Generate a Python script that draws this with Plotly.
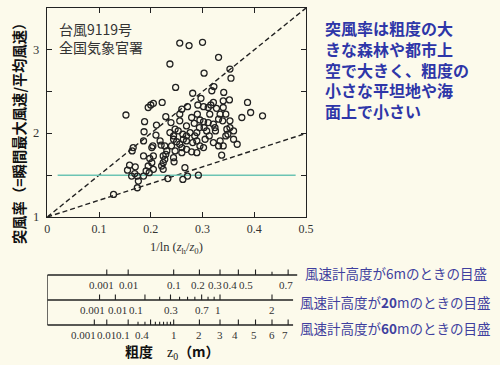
import numpy as np
import plotly.graph_objects as go

# ---------------- data ----------------
# scatter: 1/ln(zh/z0) vs gust factor (Typhoon 9119, JMA stations)
inv_ln = [0.256, 0.274, 0.300, 0.331, 0.237, 0.303, 0.353, 0.355, 0.248, 0.322,
          0.318, 0.281, 0.341, 0.297, 0.195, 0.200, 0.205, 0.222, 0.152, 0.229,
          0.260, 0.256, 0.271, 0.302, 0.311, 0.316, 0.321, 0.327, 0.340, 0.352,
          0.340, 0.345, 0.387, 0.393, 0.416, 0.376, 0.279, 0.291, 0.188, 0.211,
          0.239, 0.256, 0.269, 0.284, 0.295, 0.302, 0.311, 0.321, 0.331, 0.339,
          0.353, 0.347, 0.353, 0.325, 0.303, 0.308, 0.294, 0.289, 0.187, 0.210,
          0.237, 0.244, 0.253, 0.262, 0.269, 0.276, 0.324, 0.166, 0.164, 0.186,
          0.202, 0.204, 0.218, 0.220, 0.227, 0.231, 0.244, 0.250, 0.256, 0.260,
          0.269, 0.281, 0.289, 0.305, 0.321, 0.331, 0.334, 0.340, 0.345, 0.349,
          0.367, 0.295, 0.302, 0.269, 0.279, 0.289, 0.260, 0.224, 0.229, 0.186,
          0.205, 0.337, 0.244, 0.159, 0.155, 0.170, 0.169, 0.163, 0.174, 0.176,
          0.174, 0.128, 0.198, 0.202, 0.195, 0.191, 0.197, 0.205, 0.221, 0.224,
          0.227, 0.245, 0.266, 0.233, 0.262, 0.271, 0.292, 0.224, 0.186, 0.240,
          0.247, 0.263, 0.285, 0.313, 0.360, 0.360, 0.314, 0.334, 0.290, 0.247]
gust = [3.08, 3.05, 3.09, 2.91, 2.83, 2.72, 2.77, 2.66, 2.55, 2.56,
        2.51, 2.48, 2.49, 2.42, 2.31, 2.34, 2.36, 2.37, 2.22, 2.20,
        2.29, 2.23, 2.32, 2.32, 2.31, 2.34, 2.37, 2.30, 2.39, 2.40,
        2.31, 2.23, 2.37, 2.25, 2.21, 2.19, 2.19, 2.34, 2.14, 2.10,
        2.13, 2.15, 2.09, 2.12, 2.16, 2.14, 2.13, 2.11, 2.17, 2.15,
        2.15, 2.05, 2.07, 2.03, 2.07, 2.03, 2.07, 2.01, 2.02, 1.98,
        2.01, 1.97, 2.03, 1.99, 1.97, 2.01, 2.07, 1.83, 1.79, 1.91,
        1.83, 1.85, 1.91, 1.86, 1.85, 1.79, 1.93, 1.90, 1.87, 1.83,
        1.91, 1.89, 1.91, 1.93, 1.89, 1.85, 1.91, 1.85, 1.97, 1.99,
        1.87, 1.85, 1.83, 1.81, 1.78, 1.77, 1.77, 1.73, 1.75, 1.73,
        1.73, 1.74, 1.71, 1.62, 1.56, 1.60, 1.52, 1.49, 1.49, 1.43,
        1.35, 1.27, 1.70, 1.65, 1.61, 1.55, 1.53, 1.57, 1.61, 1.65,
        1.69, 1.66, 1.59, 1.46, 1.45, 1.49, 1.50, 1.57, 1.49, 1.85,
        1.79, 1.93, 1.97, 1.97, 2.03, 1.93, 2.23, 2.23, 2.23, 2.05]

# reference lines: gust = 1 + slope * x
ref_slopes = [5.0, 2.0]
ref_level = 1.5

# main axis ticks
x_ticks = [0, 0.1, 0.2, 0.3, 0.4, 0.5]
x_ticklabels = ["0", "0.1", "0.2", "0.3", "0.4", "0.5"]
y_ticks = [1, 1.5, 2, 2.5, 3]
y_labeled = [1, 2, 3]
y_ticklabels = ["1", "2", "3"]

# roughness scales for anemometer heights (m)
heights = [6, 20, 60]
z0_major = {
    6: [0.001, 0.01, 0.1, 0.2, 0.3, 0.4, 0.5, 0.7],
    20: [0.001, 0.01, 0.1, 0.3, 0.7, 1, 2],
    60: [0.001, 0.01, 0.1, 0.4, 1, 2, 3, 4, 5, 6, 7],
}
z0_labels = {
    6: ["0.001", "0.01", "0.1", "0.2", "0.3", "0.4", "0.5", "0.7"],
    20: ["0.001", "0.01", "0.1", "0.3", "0.7", "1", "2"],
    60: ["0.001", "0.01", "0.1", "0.4", "1", "2", "3", "4", "5", "6", "7"],
}
z0_minor = {
    6: [0.6],
    20: [0.2, 0.4, 0.5, 0.6, 0.8, 0.9],
    60: [0.2, 0.3, 0.5, 0.6, 0.7, 0.8, 0.9],
}
scale_notes = ["風速計高度が6mのときの目盛",
               "風速計高度が<b>20</b>mのときの目盛",
               "風速計高度が<b>60</b>mのときの目盛"]

# ---------------- style ----------------
W, H = 500, 365
BG = "#fcfaeb"
INK = "#222222"
SERIF = "Liberation Serif, DejaVu Serif, serif"
CJK = "Noto Sans CJK JP, Noto Sans, sans-serif"
label_shift = {6: [-5, 0, 0, -1, -5, -8, -10, -2],
               20: [-7, 2, -9, 0, 0, -2, 0],
               60: [-11, 0, -5, -9, 0, 0, 0, -3, -2, 0, -3]}
row_y = {6: 2, 20: 1, 60: 0}
row_end = {6: 0.483, 20: 0.475, 60: 0.475}
CLEAR = "rgba(0,0,0,0)"


def px_x(p):
    return p / W


def px_y(p):
    return (H - p) / H


def scale_pos(h, z):
    return 1.0 / np.log(h / np.asarray(z, dtype=float))


fig = go.Figure()

# reference dashed lines
for s in ref_slopes:
    xs = np.array([0.0, 0.5])
    fig.add_trace(go.Scatter(x=xs, y=1 + s * xs, mode="lines",
                             line=dict(color=INK, width=1.4, dash="5px,3px"),
                             hoverinfo="skip", showlegend=False))
# teal level line
fig.add_trace(go.Scatter(x=[0.02, 0.48], y=[ref_level, ref_level], mode="lines",
                         line=dict(color="#6cc4b4", width=1.4),
                         hoverinfo="skip", showlegend=False))
# scatter
fig.add_trace(go.Scatter(x=inv_ln, y=gust, mode="markers",
                         marker=dict(symbol="circle-open", size=6, color=INK,
                                     line=dict(width=1.3, color=INK)),
                         showlegend=False))

# roughness scales
annotations = []
for h in heights:
    base = row_y[h]
    fig.add_trace(go.Scatter(x=[0, row_end[h]], y=[base, base], mode="lines",
                             line=dict(color=INK, width=1.3),
                             xaxis="x2", yaxis="y2", hoverinfo="skip", showlegend=False))
    tx, ty = [], []
    for z in z0_major[h]:
        p = float(scale_pos(h, z))
        tx += [p, p, None]
        ty += [base, base + 0.22, None]
    for z in z0_minor[h]:
        p = float(scale_pos(h, z))
        tx += [p, p, None]
        ty += [base, base + 0.13, None]
    fig.add_trace(go.Scatter(x=tx, y=ty, mode="lines", line=dict(color=INK, width=1.1),
                             xaxis="x2", yaxis="y2", hoverinfo="skip", showlegend=False))
    for z, lab, sh in zip(z0_major[h], z0_labels[h], label_shift[h]):
        annotations.append(dict(x=float(scale_pos(h, z)), y=base - 0.08, xref="x2", yref="y2",
                                text=lab, showarrow=False, xanchor="center", yanchor="top",
                                xshift=sh, font=dict(family=SERIF, size=11, color="#333")))
# box left side
fig.add_trace(go.Scatter(x=[0, 0], y=[row_y[60], row_y[6]], mode="lines",
                         line=dict(color=INK, width=1.3),
                         xaxis="x2", yaxis="y2", hoverinfo="skip", showlegend=False))

for note, yc, xl in zip(scale_notes, [273, 302, 328], [303, 298, 298]):
    annotations.append(dict(x=px_x(xl), y=px_y(yc), xref="paper", yref="paper",
                            text=note, showarrow=False, xanchor="left", yanchor="middle",
                            font=dict(family=CJK, size=13.5, color="#3f3f9e")))

# y tick labels (only 1, 2, 3 are labelled)
for v, t in zip(y_labeled, y_ticklabels):
    annotations.append(dict(x=px_x(41), y=v, xref="paper", yref="y", text=t,
                            showarrow=False, xanchor="right", yanchor="middle",
                            font=dict(family=SERIF, size=12.5, color="#333")))

annotations += [
    dict(x=px_x(18), y=px_y(130), xref="paper", yref="paper", textangle=-90,
         xanchor="center", yanchor="middle", bgcolor=CLEAR,
         text="<b>突風率（=瞬間最大風速/平均風速）</b>", showarrow=False,
         font=dict(family=CJK, size=14.3, color="#111")),
    dict(x=px_x(57), y=px_y(17), xref="paper", yref="paper", xanchor="left", yanchor="top",
         text="台風9119号<br>全国気象官署", showarrow=False, align="left",
         font=dict(family=CJK, size=14, color="#333")),
    dict(x=px_x(323), y=px_y(14), xref="paper", yref="paper", xanchor="left", yanchor="top",
         text="<b>突風率は粗度の大<br>きな森林や都市上<br>空で大きく、粗度の<br>小さな平坦地や海<br>面上で小さい</b>",
         showarrow=False, align="left",
         font=dict(family=CJK, size=16, color="#2e36a8")),
    dict(x=0.25, y=px_y(248), xref="x", yref="paper", xanchor="center", yanchor="middle",
         text="1/ln (<i>z</i><sub>h</sub>/<i>z</i><sub>0</sub>)", showarrow=False,
         font=dict(family=SERIF, size=12.5, color="#333")),
    dict(x=px_x(172), y=px_y(351), xref="paper", yref="paper", xanchor="center", yanchor="middle",
         text="<b>粗度</b>　<span style='font-family:Liberation Serif'>z<sub>0</sub></span><b>（m）</b>",
         showarrow=False, font=dict(family=CJK, size=14, color="#111")),
]

xdom = [px_x(47.3), px_x(306)]
fig.update_layout(
    width=W, height=H, margin=dict(l=0, r=0, t=0, b=0, pad=0, autoexpand=False),
    paper_bgcolor=BG, plot_bgcolor=BG, showlegend=False,
    annotations=annotations,
    xaxis=dict(domain=xdom, range=[0, 0.5], tickvals=x_ticks, ticktext=x_ticklabels,
               ticks="inside", ticklen=5, tickwidth=1.2, tickcolor=INK, mirror="ticks",
               showline=True, linecolor=INK, linewidth=1.3, showgrid=False, zeroline=False,
               tickfont=dict(family=SERIF, size=12, color="#333"), anchor="y",
               automargin=False),
    yaxis=dict(domain=[px_y(217), px_y(8)], range=[1, 3.5], tickvals=y_ticks,
               showticklabels=False,
               ticks="inside", ticklen=5, tickwidth=1.2, tickcolor=INK, mirror="ticks",
               showline=True, linecolor=INK, linewidth=1.3, showgrid=False, zeroline=False,
               anchor="x", automargin=False),
    xaxis2=dict(domain=xdom, range=[0, 0.5], visible=False, anchor="y2"),
    yaxis2=dict(domain=[px_y(345), px_y(265)], range=[-0.8, 2.4], visible=False, anchor="x2"),
)

fig.write_html("out.html", config={"displayModeBar": False},
               post_script="document.body.style.margin='0';document.body.style.overflow='hidden';")
